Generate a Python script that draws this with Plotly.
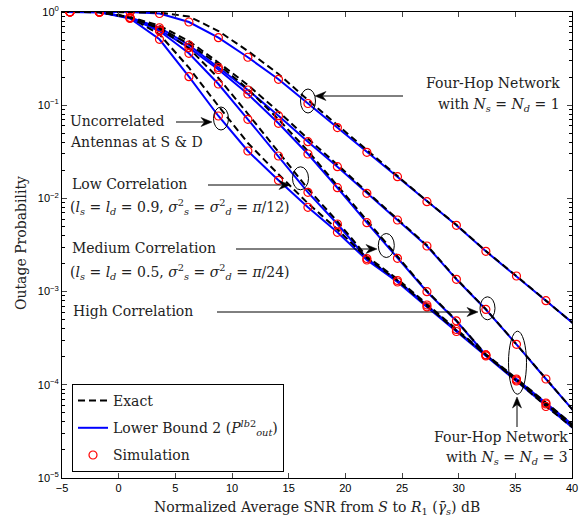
import math
import plotly.graph_objects as go

# ---------------- data ----------------
snr_sim = [-4.3, -1.7, 1.0, 3.6, 6.2, 8.8, 11.4, 14.1, 16.7, 19.3, 21.9,
           24.6, 27.2, 29.8, 32.4, 35.1, 37.7]
snr_line = [-5.0] + snr_sim + [40.3]

# Lower bound 2 curves (blue)
lb_hop1 = [1.0, 1.0, 1.0, 0.998, 0.964, 0.781, 0.530, 0.327, 0.1896, 0.1043,
           0.0576, 0.03124, 0.01709, 0.00922, 0.00514, 0.002706, 0.00147,
           0.000799, 0.000436]
lb_high = [1.0, 1.0, 0.997, 0.873, 0.678, 0.4425, 0.2538, 0.1456, 0.0772,
           0.04059, 0.02189, 0.01134, 0.005865, 0.003085, 0.001355, 0.000643,
           0.000272, 0.0001154, 0.0000498]
lb_med = [1.0, 1.0, 0.997, 0.869, 0.641, 0.414, 0.2415, 0.1319, 0.0639,
          0.02995, 0.01302, 0.005486, 0.002277, 0.000997, 0.000484, 0.000209,
          0.0001126, 0.0000622, 0.0000344]
lb_low = [1.0, 1.0, 0.996, 0.867, 0.625, 0.3604, 0.1688, 0.07059, 0.02851,
          0.01162, 0.005312, 0.002265, 0.001315, 0.000718, 0.000392, 0.000209,
          0.0001154, 0.0000638, 0.0000353]
lb_unc = [1.0, 1.0, 0.995, 0.852, 0.5095, 0.2022, 0.0766, 0.03225, 0.01564,
          0.008025, 0.004327, 0.002183, 0.001268, 0.000684, 0.000373,
          0.0002037, 0.0001098, 0.0000585, 0.0000327]

# Exact curves (black dashed)
ex_hop1 = [1.0, 1.0, 1.0, 1.0, 0.988, 0.895, 0.6254, 0.3816, 0.2162, 0.1137,
           0.0613, 0.03266, 0.01761, 0.00938, 0.00521, 0.002726, 0.00147,
           0.000799, 0.000436]
ex_high = [1.0, 1.0, 0.998, 0.884, 0.712, 0.4885, 0.287, 0.1647, 0.0852,
           0.0437, 0.02298, 0.01177, 0.00601, 0.003138, 0.001371, 0.000648,
           0.000272, 0.0001154, 0.0000498]
ex_med = [1.0, 1.0, 0.998, 0.879, 0.673, 0.457, 0.2731, 0.1492, 0.0705,
          0.03226, 0.01367, 0.005694, 0.002334, 0.001014, 0.00049, 0.0002103,
          0.0001126, 0.0000622, 0.0000344]
ex_low = [1.0, 1.0, 0.998, 0.877, 0.6654, 0.4076, 0.1958, 0.0809, 0.03187,
          0.01267, 0.005652, 0.002378, 0.001365, 0.000736, 0.000402,
          0.0002126, 0.0001168, 0.0000642, 0.0000355]
ex_unc = [1.0, 1.0, 0.998, 0.873, 0.5762, 0.2525, 0.098, 0.03931, 0.01814,
          0.00886, 0.00466, 0.002292, 0.001316, 0.000701, 0.000382, 0.0002072,
          0.0001111, 0.0000589, 0.0000329]

# Simulation points (red circles) – same SNR grid as the markers
sim_hop1 = lb_hop1[1:-1]
sim_high = lb_high[1:-1]
sim_med = lb_med[1:-1]
sim_low = lb_low[1:-1]
sim_unc = lb_unc[1:-1]

x_ticks = [-5, 0, 5, 10, 15, 20, 25, 30, 35, 40]
y_ticks = [1e-5, 1e-4, 1e-3, 1e-2, 1e-1, 1e0]
y_ticklabels = ["10<sup>\u22125</sup>", "10<sup>\u22124</sup>", "10<sup>\u22123</sup>",
                "10<sup>\u22122</sup>", "10<sup>\u22121</sup>", "10<sup>0</sup>"]

x_title = ("Normalized Average SNR from <i>S</i> to <i>R</i><sub>1</sub> "
           "(<i>\u03b3\u0304</i><sub><i>s</i></sub>) dB")
y_title = "Outage Probability"

# ---------------- figure ----------------
SERIF = "DejaVu Serif"
SANS = "Liberation Sans"
W, H = 585, 520
L, R, T, B = 62, 13, 12, 42
PW, PH = W - L - R, H - T - B


def px(xp):
    return (xp - L) / PW


def py(yp):
    return 1 - (yp - T) / PH


fig = go.Figure()

lb_sets = [lb_hop1, lb_high, lb_med, lb_low, lb_unc]
ex_sets = [ex_hop1, ex_high, ex_med, ex_low, ex_unc]
sim_sets = [sim_hop1, sim_high, sim_med, sim_low, sim_unc]

for i, ys in enumerate(lb_sets):
    fig.add_trace(go.Scatter(
        x=snr_line, y=ys, mode="lines",
        line=dict(color="#0000ff", width=2),
        name="Lower Bound 2 (<i>P</i><sup><i>lb</i>2</sup><sub><i>out</i></sub>)",
        legendgroup="lb", legendrank=2, showlegend=(i == 0)))

for i, ys in enumerate(ex_sets):
    fig.add_trace(go.Scatter(
        x=snr_line, y=ys, mode="lines",
        line=dict(color="black", width=2, dash="7px,4px"),
        name="Exact", legendgroup="ex", legendrank=1, showlegend=(i == 0)))

for i, ys in enumerate(sim_sets):
    fig.add_trace(go.Scatter(
        x=snr_sim, y=ys, mode="markers",
        marker=dict(symbol="circle-open", size=8, color="#ff0000",
                    line=dict(width=1.2, color="#ff0000")),
        name="Simulation", legendgroup="sim", legendrank=3, showlegend=(i == 0)))

minor_vals = [m * 10 ** e for e in range(-5, 0) for m in range(2, 10)]

fig.update_xaxes(
    range=[-5, 40], tickvals=x_ticks, ticks="inside", ticklen=5,
    showline=True, linecolor="black", linewidth=1, mirror="allticks",
    showgrid=False, zeroline=False, automargin=False,
    tickfont=dict(family=SANS, size=11, color="black"))

fig.update_yaxes(
    type="log", range=[-5, 0], tickvals=y_ticks, ticktext=y_ticklabels,
    ticks="inside", ticklen=5,
    minor=dict(tickvals=minor_vals, ticks="inside", ticklen=3,
               tickcolor="black", showgrid=False),
    showline=True, linecolor="black", linewidth=1, mirror="allticks",
    showgrid=False, zeroline=False, automargin=False,
    tickfont=dict(family=SANS, size=11, color="black"))

annotations = [
    dict(text=x_title, x=px(317), y=py(508), xref="paper", yref="paper",
         xanchor="center", yanchor="middle", showarrow=False,
         font=dict(family=SERIF, size=14, color="#222")),
    dict(text=y_title, x=px(21), y=py(243), xref="paper", yref="paper",
         xanchor="center", yanchor="middle", showarrow=False, textangle=-90,
         font=dict(family=SERIF, size=14, color="#222")),
]

# text annotations (pixel positions)
txt = [
    ("Four-Hop Network", 562, 83, "right"),
    ("with <i>N</i><sub><i>s</i></sub> = <i>N</i><sub><i>d</i></sub> = 1", 562, 105, "right"),
    ("Uncorrelated", 68, 121, "left"),
    ("Antennas at S &amp; D", 68, 142, "left"),
    ("Low Correlation", 70, 184, "left"),
    ("(<i>l</i><sub><i>s</i></sub> = <i>l</i><sub><i>d</i></sub> = 0.9, "
     "<i>\u03c3</i><sup>2</sup><sub><i>s</i></sub> = <i>\u03c3</i><sup>2</sup><sub><i>d</i></sub>"
     " = <i>\u03c0</i>/12)", 68, 207, "left"),
    ("Medium Correlation", 70, 248, "left"),
    ("(<i>l</i><sub><i>s</i></sub> = <i>l</i><sub><i>d</i></sub> = 0.5, "
     "<i>\u03c3</i><sup>2</sup><sub><i>s</i></sub> = <i>\u03c3</i><sup>2</sup><sub><i>d</i></sub>"
     " = <i>\u03c0</i>/24)", 68, 272, "left"),
    ("High Correlation", 71, 311, "left"),
    ("Four-Hop Network", 570, 437, "right"),
    ("with <i>N</i><sub><i>s</i></sub> = <i>N</i><sub><i>d</i></sub> = 3", 570, 458, "right"),
]
for t, xp, yp, anchor in txt:
    annotations.append(dict(
        text=t, x=px(xp), y=py(yp), xref="paper", yref="paper",
        xanchor=anchor, yanchor="middle", showarrow=False,
        font=dict(family=SERIF, size=14, color="#222")))

shapes = []

# arrows: (head_x, head_y, tail_x, tail_y) drawn as a line plus a filled head
arrows = [
    (315, 96, 403, 96),
    (212, 122, 176, 122),
    (290, 185, 208, 185),
    (377, 249, 236, 249),
    (478, 312, 217, 312),
    (517, 397, 517, 427),
]
HEAD_L, HEAD_W, NOTCH = 11.0, 4.5, 7.5
for hx, hy, tx, ty in arrows:
    dx, dy = hx - tx, hy - ty
    n = math.hypot(dx, dy)
    ux, uy = dx / n, dy / n
    vx, vy = -uy, ux
    bx, by = hx - ux * HEAD_L, hy - uy * HEAD_L
    nx, ny = hx - ux * NOTCH, hy - uy * NOTCH
    shapes.append(dict(
        type="line", xref="paper", yref="paper",
        x0=px(tx), y0=py(ty), x1=px(nx), y1=py(ny),
        line=dict(color="black", width=1)))
    pts = [(hx, hy), (bx + vx * HEAD_W, by + vy * HEAD_W), (nx, ny),
           (bx - vx * HEAD_W, by - vy * HEAD_W)]
    path = "M " + " L ".join(f"{px(a):.5f},{py(b):.5f}" for a, b in pts) + " Z"
    shapes.append(dict(
        type="path", xref="paper", yref="paper", path=path,
        fillcolor="black", line=dict(color="black", width=0.5)))

# ellipses: (center_x, center_y, width, height)
ellipses = [
    (308, 101, 15, 24),
    (221, 118.5, 15, 23),
    (300.5, 178.3, 16, 23),
    (386.3, 245.5, 16, 24),
    (487.5, 308.3, 15, 23),
    (517.5, 362.7, 18, 63),
]
for cx, cy, w, h in ellipses:
    shapes.append(dict(
        type="circle", xref="paper", yref="paper",
        x0=px(cx - w / 2), x1=px(cx + w / 2), y0=py(cy + h / 2), y1=py(cy - h / 2),
        line=dict(color="black", width=1)))

fig.update_layout(
    width=W, height=H, margin=dict(l=L, r=R, t=T, b=B, autoexpand=False),
    plot_bgcolor="white", paper_bgcolor="white",
    annotations=annotations, shapes=shapes,
    legend=dict(x=px(72), y=py(384), xanchor="left", yanchor="top",
                bordercolor="black", borderwidth=1, bgcolor="white",
                font=dict(family=SERIF, size=14, color="#222"),
                traceorder="grouped", tracegroupgap=6),
)

fig.write_html("out.html", config={"displayModeBar": False},
               post_script="document.body.style.margin='0';")
